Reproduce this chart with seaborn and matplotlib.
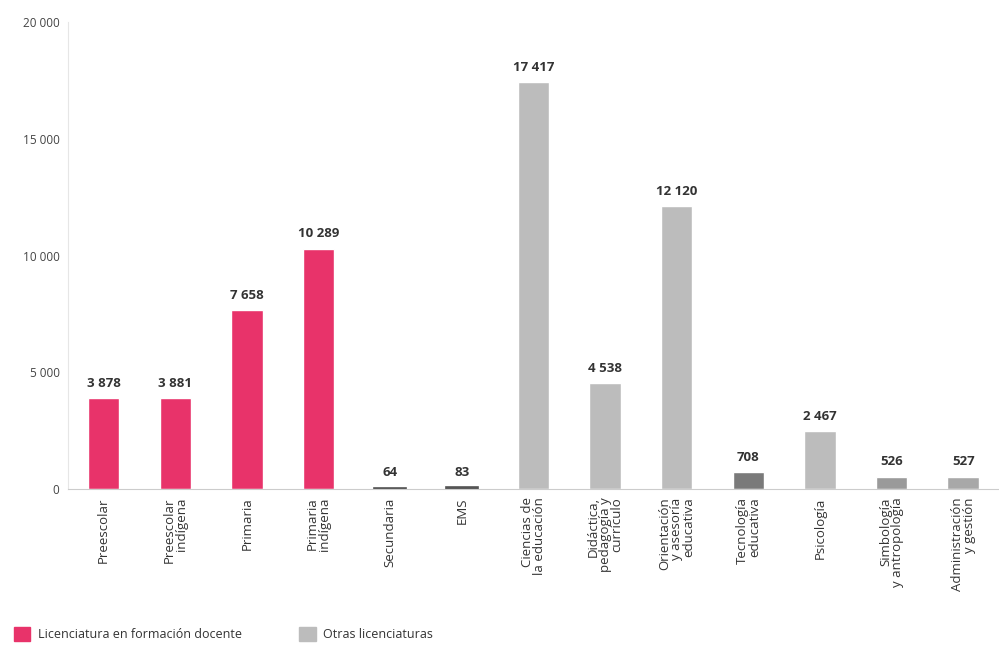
import matplotlib
matplotlib.use("Agg")
import matplotlib.pyplot as plt
import matplotlib.patches as mpatches
import seaborn as sns
import pandas as pd

# Data
categories = ["Preescolar", "Preescolar\nindígena", "Primaria", "Primaria\nindígena",
              "Secundaria", "EMS", "Ciencias de\nla educación",
              "Didáctica,\npedagogía y\ncurrículo", "Orientación\ny asesoría\neducativa",
              "Tecnología\neducativa", "Psicología", "Simbología\ny antropología",
              "Administración\ny gestión"]
values = [3878, 3881, 7658, 10289, 64, 83, 17417, 4538, 12120, 708, 2467, 526, 527]
groups = ["docente"] * 4 + ["otras"] * 9
value_labels = ["3 878", "3 881", "7 658", "10 289", "64", "83", "17 417", "4 538",
                "12 120", "708", "2 467", "526", "527"]
y_ticks = [0, 5000, 10000, 15000, 20000]

PINK = "#e8336a"
GRAY = "#bcbcbc"
bar_colors = [PINK] * 4 + ["#555555", "#555555", GRAY, GRAY, GRAY, "#7a7a7a", GRAY, "#9a9a9a", "#a8a8a8"]

df = pd.DataFrame({"cat": categories, "val": values, "grp": groups})

sns.set_style("white")
plt.rcParams["font.family"] = ["Open Sans", "DejaVu Sans"]

fig = plt.figure(figsize=(9.99, 6.49), dpi=100)
ax = fig.add_axes([0.068, 0.2465, 0.932, 0.7195])

sns.barplot(data=df, x="cat", y="val", hue="cat", order=categories,
            palette=dict(zip(categories, bar_colors)), legend=False,
            width=0.44, saturation=1, ax=ax)

for p, lab, v in zip(ax.patches, value_labels, values):
    if v < 100:
        # very small bars still show as a thin dark line in the reference
        p.set_edgecolor("#555555")
        p.set_linewidth(1.2)
    ax.annotate(lab, (p.get_x() + p.get_width() / 2, p.get_height()),
                xytext=(0, 6), textcoords="offset points", ha="center", va="bottom",
                fontsize=9.5, fontweight="bold", color="#333333")

ax.set_ylim(0, 20000)
ax.set_xlim(-0.5, len(categories) - 0.5)
ax.set_yticks(y_ticks)
ax.set_yticklabels([f"{t:,}".replace(",", " ") for t in y_ticks], fontsize=8.5, color="#444444")
ax.set_xticks(range(len(categories)))
ax.set_xticklabels(categories, rotation=90, fontsize=9.5, color="#333333",
                   ha="center", va="top", multialignment="right", linespacing=0.9)
ax.tick_params(axis="both", length=0, pad=6)
ax.set_xlabel("")
ax.set_ylabel("")

for s in ["top", "right"]:
    ax.spines[s].set_visible(False)
ax.spines["left"].set_color("#e6e6e6")
ax.spines["left"].set_linewidth(0.8)
ax.spines["bottom"].set_color("#cccccc")
ax.spines["bottom"].set_linewidth(0.8)

handles = [mpatches.Patch(color=PINK, label="Licenciatura en formación docente"),
           mpatches.Patch(color=GRAY, label="Otras licenciaturas")]
fig.legend(handles=handles, loc="lower left", bbox_to_anchor=(0.003, -0.005), ncol=2,
           frameon=False, fontsize=9, handlelength=1.3, handleheight=1.3,
           columnspacing=4.6, handletextpad=0.6, labelcolor="#333333")

fig.savefig("out.png", dpi=100)
plt.close(fig)
